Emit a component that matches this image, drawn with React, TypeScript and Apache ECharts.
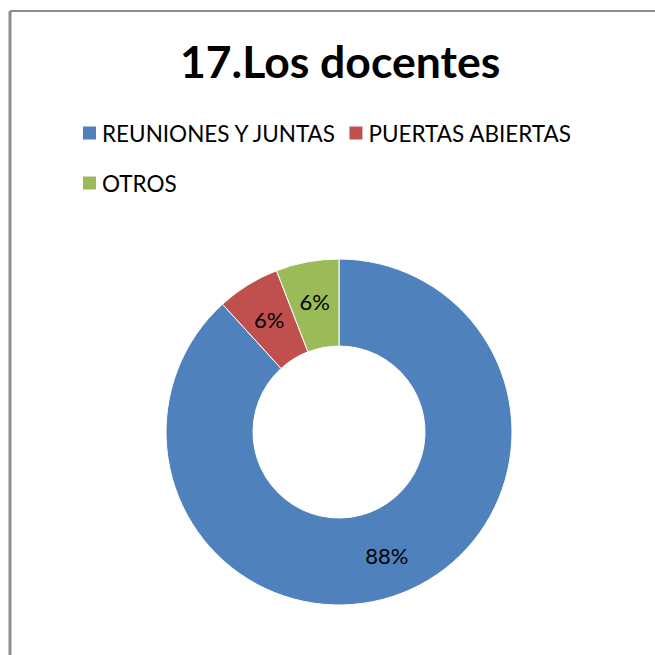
import React, { useEffect, useRef } from "react";
import * as echarts from "echarts";

const titleText = "17.Los docentes";
const categories = ["REUNIONES Y JUNTAS", "PUERTAS ABIERTAS", "OTROS"];
const values = [15, 1, 1];
const colors = ["#4F81BD", "#C0504D", "#9BBB59"];

export default function App() {
  const ref = useRef<HTMLDivElement>(null);
  useEffect(() => {
    if (!ref.current) return;
    const chart = echarts.init(ref.current, null, { renderer: "svg" });
    chart.setOption({
      animation: false,
      backgroundColor: "#ffffff",
      title: {
        text: titleText,
        left: 175,
        top: 33,
        textStyle: { fontFamily: "Lato", fontWeight: "bold", fontSize: 44.5, color: "#000" },
      },
      legend: {
        left: 76,
        top: 108,
        width: 520,
        itemWidth: 15,
        itemHeight: 15,
        itemGap: 10,
        icon: "rect",
        data: categories,
        textStyle: { fontFamily: "Lato", fontSize: 22.5, color: "#000", lineHeight: 40 },
      },
      graphic: [
        { type: "line", shape: { x1: 10, y1: 11, x2: 655, y2: 11 }, style: { stroke: "#8c8c8c", lineWidth: 2 } },
        { type: "line", shape: { x1: 10, y1: 11, x2: 10, y2: 655 }, style: { stroke: "#8c8c8c", lineWidth: 3 } },
      ],
      series: [
        {
          type: "pie",
          center: [339, 432],
          radius: [86, 173],
          startAngle: 90,
          clockwise: true,
          data: categories.map((c, i) => ({ name: c, value: values[i], itemStyle: { color: colors[i] } })),
          itemStyle: { borderColor: "#fff", borderWidth: 1 },
          label: {
            position: "inside",
            formatter: (p: any) => Math.round(p.percent) + "%",
            fontFamily: "Lato",
            fontSize: 22,
            color: "#000",
          },
          labelLine: { show: false },
          emphasis: { disabled: true },
        },
      ],
    });
    return () => chart.dispose();
  }, []);
  return <div ref={ref} style={{ position: "fixed", left: 0, top: 0, width: 655, height: 655 }} />;
}
